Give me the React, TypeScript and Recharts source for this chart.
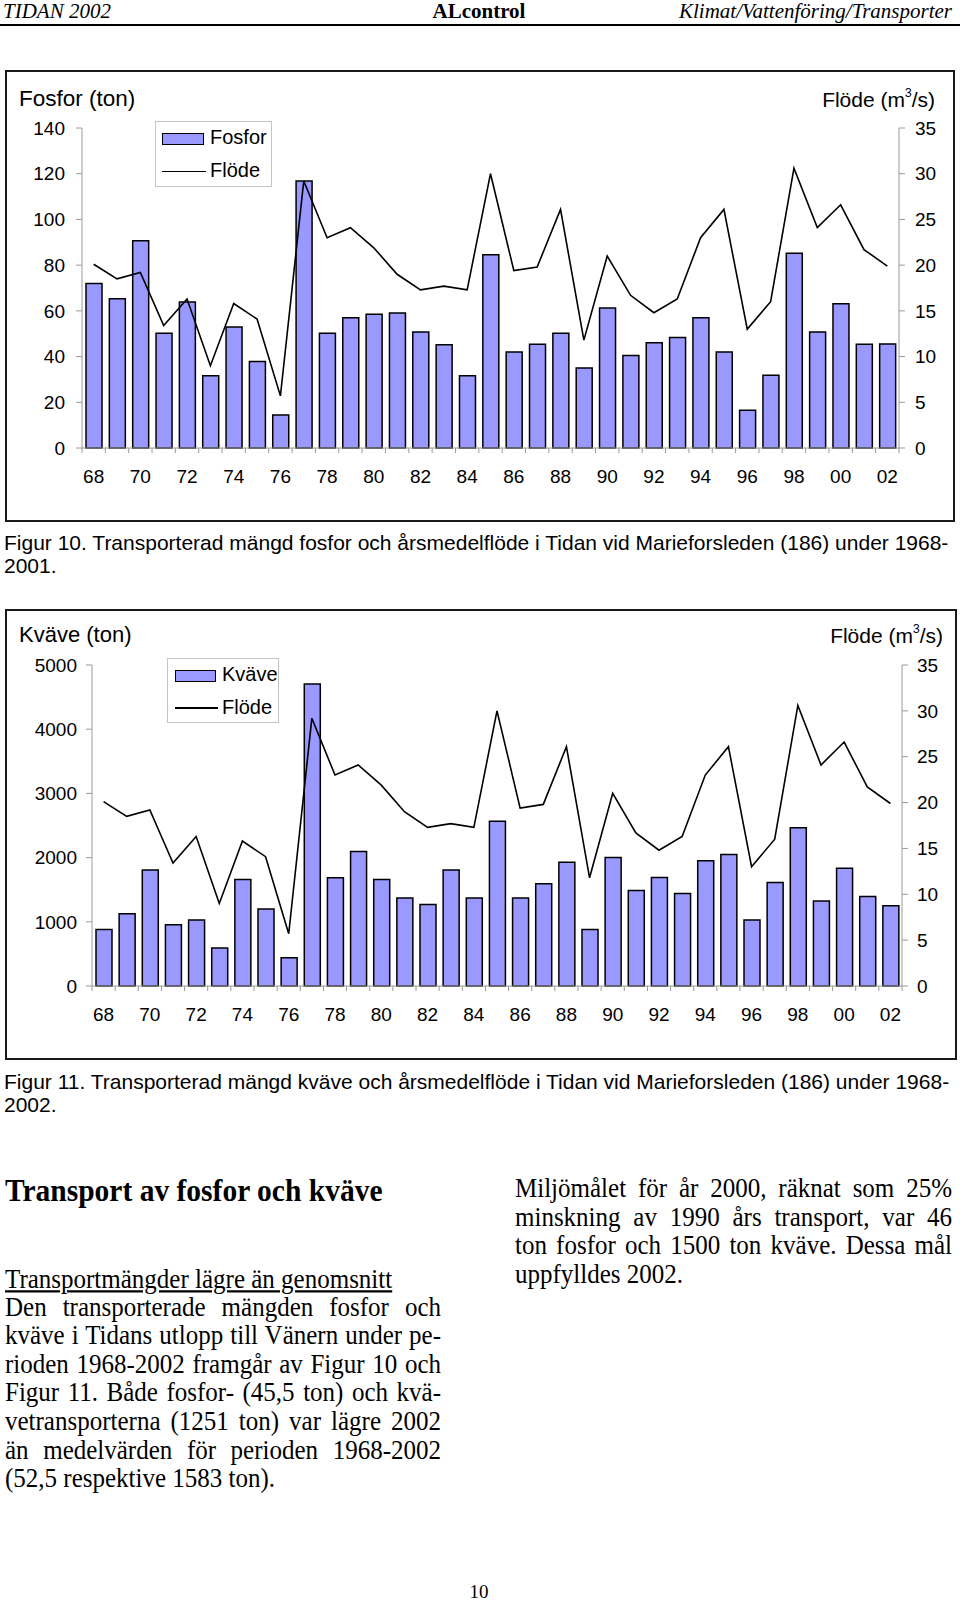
import React from "react";
import { ComposedChart, Bar, Line, XAxis, YAxis } from "recharts";

// Years 1968-2002, labelled by two digits
const years = [
  "68", "69", "70", "71", "72", "73", "74", "75", "76", "77", "78", "79",
  "80", "81", "82", "83", "84", "85", "86", "87", "88", "89", "90", "91",
  "92", "93", "94", "95", "96", "97", "98", "99", "00", "01", "02",
];

// transported phosphorus (ton)
const fosfor = [
  72, 65.3, 90.7, 50.2, 63.9, 31.6, 52.9, 37.8, 14.4, 116.8, 50.2, 57,
  58.5, 59.1, 50.8, 45.2, 31.6, 84.6, 42, 45.4, 50.2, 35, 61.3, 40.5,
  46.1, 48.3, 57, 42, 16.5, 31.8, 85.2, 50.8, 63.1, 45.4, 45.5,
];

// transported nitrogen (ton)
const kvave = [
  882, 1125, 1805, 954, 1027, 591, 1660, 1198, 441, 4704, 1686, 2095,
  1660, 1369, 1271, 1805, 1369, 2567, 1369, 1592, 1929, 882, 2002, 1489,
  1691, 1442, 1950, 2049, 1027, 1613, 2464, 1323, 1836, 1395, 1251,
];

// mean annual flow (m3/s)
const flode = [
  20.1, 18.5, 19.2, 13.4, 16.3, 9.0, 15.8, 14.1, 5.7, 29.2, 23.0, 24.1,
  21.9, 19.0, 17.3, 17.7, 17.3, 30.0, 19.4, 19.8, 26.1, 11.8, 21.0, 16.7,
  14.8, 16.3, 23.0, 26.1, 13.0, 16.0, 30.6, 24.1, 26.6, 21.7, 19.9,
];

const fosforTicks = [0, 20, 40, 60, 80, 100, 120, 140];
const kvaveTicks = [0, 1000, 2000, 3000, 4000, 5000];
const flodeTicks = [0, 5, 10, 15, 20, 25, 30, 35];

const fosforData = years.map((year, i) => ({ year, value: fosfor[i], flode: flode[i] }));
const kvaveData = years.map((year, i) => ({ year, value: kvave[i], flode: flode[i] }));

const AXIS = "#9a9a9a";
const BAR = "#9999ff";
const SANS = "'Liberation Sans', Arial, sans-serif";
const SERIF = "'Liberation Serif', 'Times New Roman', serif";

// text placed by its baseline
function Txt({
  x, base, size, font = SANS, weight = 400, italic = false, anchor = "start",
  width, justify = false, sy = 1, underline = false, children,
}: any) {
  const k = font === SANS ? 0.8465 : 0.8375;
  const style: React.CSSProperties = {
    position: "absolute",
    top: base - k * size,
    fontFamily: font,
    fontSize: size,
    lineHeight: `${size}px`,
    fontWeight: weight,
    fontStyle: italic ? "italic" : "normal",
    whiteSpace: "nowrap",
    color: "#000",
    textDecoration: underline ? "underline" : "none",
    transform: sy !== 1 ? `scaleY(${sy})` : undefined,
    transformOrigin: `0 ${k * size}px`,
  };
  if (anchor === "end") style.right = 960 - x;
  else if (anchor === "middle") {
    style.left = x - 200;
    style.width = 400;
    style.textAlign = "center";
  } else style.left = x;
  if (width) {
    style.width = width;
    style.whiteSpace = "normal";
    if (justify) {
      style.textAlign = "justify";
      style.textAlignLast = "justify";
    }
  }
  return <div style={style}>{children}</div>;
}

function makeXTick(band: number, count: number) {
  return (props: any) => {
    const { x, y, payload, index } = props;
    const left = x - band / 2;
    return (
      <g>
        <line x1={left} y1={y} x2={left} y2={y + 5} stroke={AXIS} />
        {index === count - 1 && (
          <line x1={x + band / 2} y1={y} x2={x + band / 2} y2={y + 5} stroke={AXIS} />
        )}
        {index % 2 === 0 && (
          <text x={x} y={y + 22} dy="0.71em" textAnchor="middle" fontSize={19} fontFamily={SANS} fill="#000">
            {payload.value}
          </text>
        )}
      </g>
    );
  };
}

function DualChart({
  data, top, leftMax, leftTicks, marginTop, plotH, leftW, rightW, leftGap, rightGap,
}: any) {
  const height = 452;
  const band = (960 - leftW - rightW) / data.length;
  return (
    <div style={{ position: "absolute", left: 0, top }}>
      <ComposedChart
        width={960}
        height={height}
        data={data}
        margin={{ top: marginTop, right: 0, bottom: 0, left: 0 }}
        barCategoryGap={0}
      >
        <XAxis
          dataKey="year"
          interval={0}
          height={height - marginTop - plotH}
          axisLine={{ stroke: AXIS }}
          tickLine={false}
          tickSize={0}
          tickMargin={0}
          tick={makeXTick(band, data.length)}
        />
        <YAxis
          yAxisId="left"
          width={leftW}
          domain={[0, leftMax]}
          ticks={leftTicks}
          interval={0}
          axisLine={{ stroke: AXIS }}
          tickLine={{ stroke: AXIS }}
          tickSize={6}
          tickMargin={leftGap}
          tick={{ fontSize: 19, fontFamily: SANS, fill: "#000" }}
        />
        <YAxis
          yAxisId="right"
          orientation="right"
          width={rightW}
          domain={[0, 35]}
          ticks={flodeTicks}
          interval={0}
          axisLine={{ stroke: AXIS }}
          tickLine={{ stroke: AXIS }}
          tickSize={6}
          tickMargin={rightGap}
          tick={{ fontSize: 19, fontFamily: SANS, fill: "#000" }}
        />
        <Bar
          yAxisId="left"
          dataKey="value"
          barSize={16}
          fill={BAR}
          stroke="#000"
          strokeWidth={1.5}
          isAnimationActive={false}
        />
        <Line
          yAxisId="right"
          dataKey="flode"
          type="linear"
          stroke="#000"
          strokeWidth={1.6}
          dot={false}
          activeDot={false}
          isAnimationActive={false}
        />
      </ComposedChart>
    </div>
  );
}

function LegendBox({ x, y, w, h, label, sw, textX, base1, base2, lineY }: any) {
  return (
    <>
      <div
        style={{
          position: "absolute", left: x, top: y, width: w, height: h,
          border: "1px solid #c4c4c4", boxSizing: "border-box", background: "#fff",
        }}
      />
      <div
        style={{
          position: "absolute", left: sw.x, top: sw.y, width: sw.w, height: sw.h,
          background: BAR, border: "1.5px solid #000", boxSizing: "border-box",
        }}
      />
      <div style={{ position: "absolute", left: sw.x, top: lineY - 0.75, width: sw.w + 2, height: 1.5, background: "#000" }} />
      <Txt x={textX} base={base1} size={20}>{label}</Txt>
      <Txt x={textX} base={base2} size={20}>Flöde</Txt>
    </>
  );
}

function Frame({ x, y, w, h }: any) {
  return (
    <div
      style={{
        position: "absolute", left: x, top: y, width: w, height: h,
        border: "2px solid #1a1a1a", boxSizing: "border-box",
      }}
    />
  );
}

const sup = { fontSize: 12, verticalAlign: "top", lineHeight: "12px", position: "relative" as const, top: -2 };

export default function App() {
  const L = 28.6;
  return (
    <div style={{ position: "absolute", left: 0, top: 0, width: 960, height: 1603, background: "#fff", overflow: "hidden" }}>
      {/* page header */}
      <Txt x={3} base={18.5} size={21} font={SERIF} italic>TIDAN 2002</Txt>
      <Txt x={479} base={18.5} size={21} font={SERIF} weight={700} anchor="middle">ALcontrol</Txt>
      <Txt x={952} base={18.5} size={21} font={SERIF} italic anchor="end">Klimat/Vattenföring/Transporter</Txt>
      <div style={{ position: "absolute", left: 0, top: 24, width: 960, height: 2, background: "#000" }} />

      {/* Figur 10 */}
      <Frame x={5} y={70} w={950} h={452} />
      <DualChart
        data={fosforData}
        top={70}
        leftMax={140}
        leftTicks={fosforTicks}
        marginTop={58}
        plotH={320}
        leftW={82}
        rightW={61}
        leftGap={11}
        rightGap={10}
      />
      <Txt x={19} base={107} size={22.5}>Fosfor (ton)</Txt>
      <Txt x={935} base={107} size={21} anchor="end">
        Flöde (m<span style={sup}>3</span>/s)
      </Txt>
      <LegendBox
        x={155} y={121} w={117} h={66} label="Fosfor"
        sw={{ x: 162, y: 133, w: 42, h: 12 }} textX={210} base1={144} base2={176.5} lineY={171.7}
      />
      <Txt x={4} base={550} size={21}>
        Figur 10. Transporterad mängd fosfor och årsmedelflöde i Tidan vid Marieforsleden (186) under 1968-
      </Txt>
      <Txt x={4} base={573} size={21}>2001.</Txt>

      {/* Figur 11 */}
      <Frame x={5} y={609} w={952} h={451} />
      <DualChart
        data={kvaveData}
        top={608}
        leftMax={5000}
        leftTicks={kvaveTicks}
        marginTop={57}
        plotH={321}
        leftW={92}
        rightW={58}
        leftGap={9}
        rightGap={9}
      />
      <Txt x={19} base={643} size={22}>Kväve (ton)</Txt>
      <Txt x={943} base={643} size={21} anchor="end">
        Flöde (m<span style={sup}>3</span>/s)
      </Txt>
      <LegendBox
        x={167} y={658} w={112} h={65} label="Kväve"
        sw={{ x: 175, y: 670, w: 41, h: 12 }} textX={222} base1={681} base2={714} lineY={708}
      />
      <Txt x={4} base={1089} size={21}>
        Figur 11. Transporterad mängd kväve och årsmedelflöde i Tidan vid Marieforsleden (186) under 1968-
      </Txt>
      <Txt x={4} base={1112} size={21}>2002.</Txt>

      {/* text section */}
      <Txt x={5} base={1202} size={29.5} font={SERIF} weight={700} sy={1.07}>Transport av fosfor och kväve</Txt>
      <Txt x={5} base={1288} size={25} font={SERIF} underline sy={1.12}>Transportmängder lägre än genomsnitt</Txt>
      <Txt x={5} base={1315.5} size={25} font={SERIF} width={436} justify sy={1.12}>Den transporterade mängden fosfor och</Txt>
      <Txt x={5} base={1315.5 + L} size={25} font={SERIF} width={436} justify sy={1.12}>kväve i Tidans utlopp till Vänern under pe-</Txt>
      <Txt x={5} base={1315.5 + 2 * L} size={25} font={SERIF} width={436} justify sy={1.12}>rioden 1968-2002 framgår av Figur 10 och</Txt>
      <Txt x={5} base={1315.5 + 3 * L} size={25} font={SERIF} width={436} justify sy={1.12}>Figur 11. Både fosfor- (45,5 ton) och kvä-</Txt>
      <Txt x={5} base={1315.5 + 4 * L} size={25} font={SERIF} width={436} justify sy={1.12}>vetransporterna (1251 ton) var lägre 2002</Txt>
      <Txt x={5} base={1315.5 + 5 * L} size={25} font={SERIF} width={436} justify sy={1.12}>än medelvärden för perioden 1968-2002</Txt>
      <Txt x={5} base={1315.5 + 6 * L} size={25} font={SERIF} sy={1.12}>(52,5 respektive 1583 ton).</Txt>

      <Txt x={515} base={1197} size={25} font={SERIF} width={437} justify sy={1.12}>Miljömålet för år 2000, räknat som 25%</Txt>
      <Txt x={515} base={1197 + L} size={25} font={SERIF} width={437} justify sy={1.12}>minskning av 1990 års transport, var 46</Txt>
      <Txt x={515} base={1197 + 2 * L} size={25} font={SERIF} width={437} justify sy={1.12}>ton fosfor och 1500 ton kväve. Dessa mål</Txt>
      <Txt x={515} base={1197 + 3 * L} size={25} font={SERIF} sy={1.12}>uppfylldes 2002.</Txt>

      <Txt x={479} base={1598} size={19} font={SERIF} anchor="middle">10</Txt>
    </div>
  );
}
